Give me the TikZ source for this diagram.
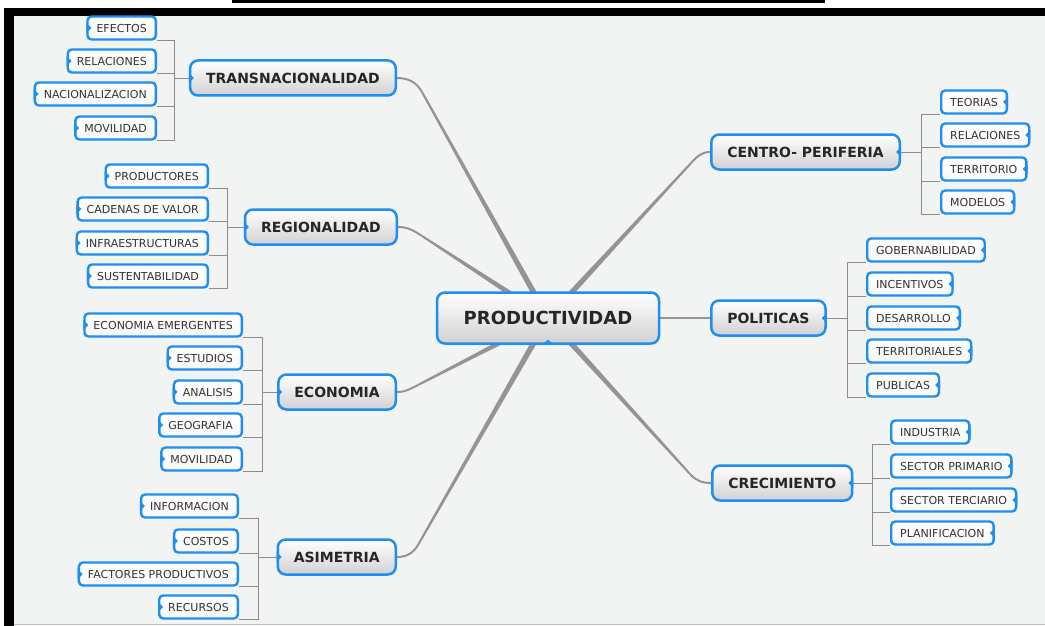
\documentclass[tikz,border=0pt]{standalone}
\usepackage{fontspec}
\setmainfont{DejaVu Sans}
\usetikzlibrary{calc,backgrounds}

\definecolor{mmblue}{RGB}{30,142,240}
\definecolor{bggrey}{RGB}{242,243,243}

\tikzset{
  mainbox/.style={draw=mmblue, line width=2.5pt, rounded corners=8pt,
    top color=white, bottom color=black!18, text=black!85,
    font=\fontsize{14}{16}\selectfont\bfseries,
    minimum height=35pt, inner xsep=16pt, inner ysep=0pt},
  centrebox/.style={mainbox, minimum width=222pt, minimum height=51pt,
    font=\fontsize{18}{20}\selectfont\bfseries},
  leaf/.style={draw=mmblue, line width=2.4pt, rounded corners=4pt,
    top color=white, bottom color=black!3, text=black!80,
    font=\fontsize{11}{13}\selectfont,
    minimum height=23pt, inner xsep=9pt, inner ysep=0pt},
  leafL/.style={leaf, anchor=east},
  leafR/.style={leaf, anchor=west},
  notch/.style={fill=mmblue},
  twig/.style={draw=black!45, line width=0.8pt},
  branch/.style={fill=black!42},
  branchtip/.style={draw=black!42, line width=2pt},
}

% tapered branch: bend point, end anchor, out angle, in angle
\newcommand\branch[4]{%
  \fill[branch] ($(prod.center)!3pt!90:(#1)$) -- ($(#1)!1pt!-90:(prod.center)$)
    -- ($(#1)!1pt!90:(prod.center)$) -- ($(prod.center)!3pt!-90:(#1)$) -- cycle;
  \draw[branchtip] (#1) to[out=#3,in=#4] (#2);}

\begin{document}
\begin{tikzpicture}[x=1pt,y=1pt]
\useasboundingbox (0,0) rectangle (1045,-626);

\begin{scope}[on background layer]
  \fill[bggrey] (14,-16) rectangle (1045,-624);
  \fill[black] (4,-8) rectangle (1045,-16);
  \fill[black] (4,-8) rectangle (14,-626);
  \fill[black] (232,0) rectangle (825,-3);
  \draw[black!25] (14,-624.5) -- (1045,-624.5);
\end{scope}

\node[centrebox] (prod) at (548,-318) {PRODUCTIVIDAD};

% left side
\node[mainbox, anchor=east] (tr) at (397,-78)  {TRANSNACIONALIDAD};
\node[mainbox, anchor=east] (re) at (398,-227) {REGIONALIDAD};
\node[mainbox, anchor=east] (ec) at (397,-392) {ECONOMIA};
\node[mainbox, anchor=east] (as) at (397,-557) {ASIMETRIA};

% right side
\node[mainbox, anchor=west] (ce) at (710,-152) {CENTRO- PERIFERIA};
\node[mainbox, anchor=west] (po) at (710,-318) {POLITICAS};
\node[mainbox, anchor=west] (cr) at (711,-483) {CRECIMIENTO};

\node[leafL] (tr1) at (157,-28)  {EFECTOS};
\node[leafL] (tr2) at (157,-61)  {RELACIONES};
\node[leafL] (tr3) at (157,-94)  {NACIONALIZACION};
\node[leafL] (tr4) at (157,-128) {MOVILIDAD};

\node[leafL] (re1) at (209,-176) {PRODUCTORES};
\node[leafL] (re2) at (209,-209) {CADENAS DE VALOR};
\node[leafL] (re3) at (209,-243) {INFRAESTRUCTURAS};
\node[leafL] (re4) at (209,-276) {SUSTENTABILIDAD};

\node[leafL] (ec1) at (243,-325) {ECONOMIA EMERGENTES};
\node[leafL] (ec2) at (243,-358) {ESTUDIOS};
\node[leafL] (ec3) at (243,-392) {ANALISIS};
\node[leafL] (ec4) at (243,-425) {GEOGRAFIA};
\node[leafL] (ec5) at (243,-459) {MOVILIDAD};

\node[leafL] (as1) at (239,-506) {INFORMACION};
\node[leafL] (as2) at (239,-541) {COSTOS};
\node[leafL] (as3) at (239,-574) {FACTORES PRODUCTIVOS};
\node[leafL] (as4) at (239,-607) {RECURSOS};

\node[leafR] (ce1) at (940,-102) {TEORIAS};
\node[leafR] (ce2) at (940,-135) {RELACIONES};
\node[leafR] (ce3) at (940,-169) {TERRITORIO};
\node[leafR] (ce4) at (940,-202) {MODELOS};

\node[leafR] (po1) at (866,-250) {GOBERNABILIDAD};
\node[leafR] (po2) at (866,-284) {INCENTIVOS};
\node[leafR] (po3) at (866,-318) {DESARROLLO};
\node[leafR] (po4) at (866,-351) {TERRITORIALES};
\node[leafR] (po5) at (866,-385) {PUBLICAS};

\node[leafR] (cr1) at (890,-432) {INDUSTRIA};
\node[leafR] (cr2) at (890,-466) {SECTOR PRIMARIO};
\node[leafR] (cr3) at (890,-500) {SECTOR TERCIARIO};
\node[leafR] (cr4) at (890,-533) {PLANIFICACION};

% notches
\foreach \n in {tr,re,ec,as,tr1,tr2,tr3,tr4,re1,re2,re3,re4,ec1,ec2,ec3,ec4,ec5,as1,as2,as3,as4}
  \fill[notch] ([yshift=5pt]\n.west) -- ++(5pt,-5pt) -- ++(-5pt,-5pt) -- cycle;
\foreach \n in {ce,po,cr,ce1,ce2,ce3,ce4,po1,po2,po3,po4,po5,cr1,cr2,cr3,cr4}
  \fill[notch] ([yshift=5pt]\n.east) -- ++(-5pt,-5pt) -- ++(5pt,-5pt) -- cycle;
\fill[notch] ([xshift=-6pt]prod.south) -- ++(6pt,5pt) -- ++(6pt,-5pt) -- cycle;

% brackets
\coordinate (trb) at (174,-78);
\coordinate (reb) at (227,-227);
\coordinate (ecb) at (262,-392);
\coordinate (asb) at (258,-557);
\coordinate (ceb) at (921,-152);
\coordinate (pob) at (847,-318);
\coordinate (crb) at (872,-483);

\draw[twig] (trb) -- (tr.west);
\draw[twig] (reb) -- (re.west);
\draw[twig] (ecb) -- (ec.west);
\draw[twig] (asb) -- (as.west);
\draw[twig] (ceb) -- (ce.east);
\draw[twig] (pob) -- (po.east);
\draw[twig] (crb) -- (cr.east);

\foreach \l in {tr1,tr2,tr3,tr4} \draw[twig] (\l.south east) -| (trb);
\foreach \l in {re1,re2,re3,re4} \draw[twig] (\l.south east) -| (reb);
\foreach \l in {ec1,ec2,ec3,ec4,ec5} \draw[twig] (\l.south east) -| (ecb);
\foreach \l in {as1,as2,as3,as4} \draw[twig] (\l.south east) -| (asb);
\foreach \l in {ce1,ce2,ce3,ce4} \draw[twig] (\l.south west) -| (ceb);
\foreach \l in {po1,po2,po3,po4,po5} \draw[twig] (\l.south west) -| (pob);
\foreach \l in {cr1,cr2,cr3,cr4} \draw[twig] (\l.south west) -| (crb);

% main branches
\coordinate (k1) at (422,-92);
\coordinate (k2) at (422,-236);
\coordinate (k3) at (418,-385);
\coordinate (k4) at (418,-545);
\coordinate (k5) at (692,-162);
\coordinate (k6) at (690,-474);

\begin{scope}[on background layer]
  \branch{k1}{tr.east}{119}{0}
  \branch{k2}{re.east}{147}{0}
  \branch{k3}{ec.east}{207}{0}
  \branch{k4}{as.east}{240}{0}
  \branch{k5}{ce.west}{47}{180}
  \branch{k6}{cr.west}{-48}{180}
  \draw[branchtip] (prod.east) -- (po.west);
\end{scope}
\end{tikzpicture}
\end{document}
